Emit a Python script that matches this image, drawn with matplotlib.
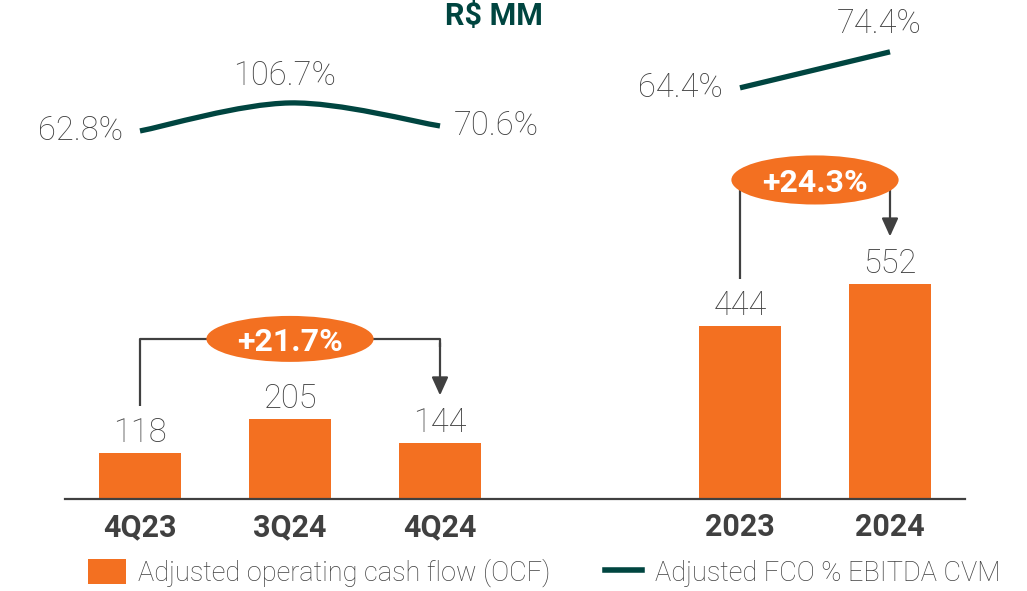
import matplotlib
matplotlib.use("Agg")
import matplotlib.pyplot as plt
from matplotlib.patches import Ellipse, Patch
from matplotlib.lines import Line2D
from matplotlib.path import Path
from matplotlib.patches import PathPatch

# data
categories = ["4Q23", "3Q24", "4Q24", "2023", "2024"]
positions = [0, 1, 2, 4, 5]
ocf = [118, 205, 144, 444, 552]
fco_quarter = [62.8, 106.7, 70.6]
fco_year = [64.4, 74.4]
growth_labels = ["+21.7%", "+24.3%"]

ORANGE = "#F37021"
GREEN = "#004540"
GRAY = "#404040"
FONT = "Roboto"

plt.rcParams['font.family'] = [FONT, 'DejaVu Sans']

W, H = 1027, 591
fig = plt.figure(figsize=(W / 100, H / 100), dpi=100)
rect = [65 / W, 92 / H, 900 / W, 499 / H]

# bars
ax = fig.add_axes(rect)
ax.bar(positions, ocf, width=0.55, color=ORANGE, zorder=2)
ax.set_xlim(-0.5, 5.5)
ax.set_ylim(0, 1281)
for s in ["top", "left", "right"]:
    ax.spines[s].set_visible(False)
ax.spines["bottom"].set_color(GRAY)
ax.spines["bottom"].set_linewidth(1.6)
ax.set_yticks([])
ax.set_xticks(positions)
ax.set_xticklabels(categories, fontsize=22, fontweight="bold", color=GRAY)
ax.tick_params(axis="x", length=0, pad=9.5)

for x, v in zip(positions, ocf):
    ax.annotate(str(v), (x, v), xytext=(0, 4), textcoords="offset pixels",
                ha="center", va="bottom", fontsize=23.5, color=GRAY,
                fontweight="light")

# growth brackets
def bracket(x0, x1, v0, v1, level, label, h):
    off = 122
    ax.plot([x0, x0, x1, x1], [v0 + off, level, level, level - 20],
            color=GRAY, lw=1.6, zorder=3, solid_capstyle="butt")
    ax.annotate("", xy=(x1, v1 + off), xytext=(x1, level - 10),
                arrowprops=dict(arrowstyle="-|>,head_length=1.1,head_width=0.5",
                                color=GRAY, lw=1.6, shrinkA=0, shrinkB=0),
                zorder=3)
    e = Ellipse(((x0 + x1) / 2, level), width=1.115, height=h,
                facecolor=ORANGE, edgecolor="none", zorder=4)
    ax.add_patch(e)
    ax.text((x0 + x1) / 2, level, label, ha="center", va="center_baseline",
            fontsize=23, fontweight="bold", color="white", zorder=5)

bracket(positions[0], positions[2], ocf[0], ocf[2], 411, growth_labels[0], 118)
bracket(positions[3], positions[4], ocf[3], ocf[4], 819, growth_labels[1], 126)

# quarterly FCO line (smoothed through the three points)
axq = fig.add_axes(rect, facecolor="none")
axq.set_xlim(-0.5, 5.5)
axq.set_ylim(-514, 268)
axq.axis("off")
qx = positions[:3]
pts = list(zip(qx, fco_quarter))
ext = [pts[0]] + pts + [pts[-1]]
verts = [pts[0]]
codes = [Path.MOVETO]
for i in range(1, len(ext) - 2):
    p0, p1, p2, p3 = ext[i - 1], ext[i], ext[i + 1], ext[i + 2]
    c1 = (p1[0] + (p2[0] - p0[0]) / 6, p1[1] + (p2[1] - p0[1]) / 6)
    c2 = (p2[0] - (p3[0] - p1[0]) / 6, p2[1] - (p3[1] - p1[1]) / 6)
    verts += [c1, c2, p2]
    codes += [Path.CURVE4] * 3
axq.add_patch(PathPatch(Path(verts, codes), facecolor="none", edgecolor=GREEN,
                        lw=3.8, capstyle="butt"))

q_offsets = [(-17, 0, "right", "center"), (-6, 11, "center", "bottom"),
             (14, 0, "left", "center")]
for x, v, (dx, dy, ha, va) in zip(qx, fco_quarter, q_offsets):
    axq.annotate(f"{v:.1f}%", (x, v), xytext=(dx, dy), textcoords="offset pixels",
                 ha=ha, va=va, fontsize=23.5, color=GRAY, fontweight="light")

# annual FCO line
axa = fig.add_axes(rect, facecolor="none")
axa.set_xlim(-0.5, 5.5)
axa.set_ylim(-49.8, 88.8)
axa.axis("off")
ax_years = positions[3:]
axa.plot(ax_years, fco_year, color=GREEN, lw=3.8, solid_capstyle="butt")
a_offsets = [(-17, 0, "right", "center"), (-11, 12, "center", "bottom")]
for x, v, (dx, dy, ha, va) in zip(ax_years, fco_year, a_offsets):
    axa.annotate(f"{v:.1f}%", (x, v), xytext=(dx, dy), textcoords="offset pixels",
                 ha=ha, va=va, fontsize=23.5, color=GRAY, fontweight="light")

fig.text(494 / W, 1 - 16 / H, "R$ MM", ha="center", va="center",
         fontsize=22, fontweight="bold", color=GREEN)

handles = [Patch(facecolor=ORANGE, edgecolor="none"),
           Line2D([0], [0], color=GREEN, lw=4)]
fig.legend(handles, ["Adjusted operating cash flow (OCF)", "Adjusted FCO % EBITDA CVM"],
           loc="center", bbox_to_anchor=(544 / W, 1 - 573 / H), ncol=2,
           frameon=False, labelcolor=GRAY, handlelength=1.4,
           handleheight=1.05, handletextpad=0.45, columnspacing=2.0,
           prop={"family": FONT, "weight": "light", "size": 19.5})

fig.savefig("out.png", dpi=100)
